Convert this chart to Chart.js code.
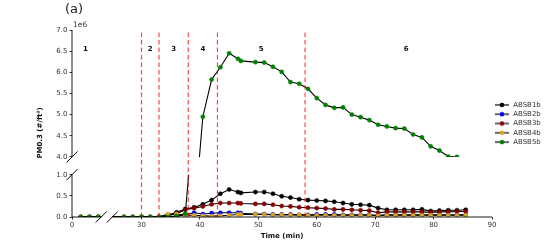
<!DOCTYPE html>
<html><head><meta charset="utf-8">
<script src="https://cdn.jsdelivr.net/npm/chart.js@4.4.0/dist/chart.umd.min.js"></script>
<style>html,body{margin:0;padding:0;background:#fff;}#wrap{width:550px;height:244px;position:relative;}</style>
</head><body><div id="wrap"><canvas id="c" width="550" height="244"></canvas></div>
<script>
// ---- data (values in units of 1e6 #/ft^3) ----
const times = [1.5, 3, 4.5,
  27, 28.5, 30, 31.5, 33, 34.5, 36, 37.5, 39, 40.5,
  42, 43.5, 45, 46.5, 47, 49.5, 51, 52.5, 54, 55.5,
  57, 58.5, 60, 61.5, 63, 64.5, 66, 67.5, 69, 70.5,
  72, 73.5, 75, 76.5, 78, 79.5, 81, 82.5, 84, 85.5];
const absb1b = [0, 0, 0,
  0, 0, 0, 0, 0.01, 0.04, 0.11, 0.19, 0.23, 0.30,
  0.40, 0.55, 0.65, 0.59, 0.57, 0.59, 0.59, 0.55, 0.49, 0.46,
  0.42, 0.40, 0.39, 0.38, 0.36, 0.33, 0.30, 0.29, 0.28, 0.21,
  0.17, 0.17, 0.17, 0.17, 0.18, 0.14, 0.15, 0.16, 0.16, 0.17];
const absb2b = [0, 0, 0,
  0, 0, 0, 0, 0, 0, 0.02, 0.05, 0.10, 0.07,
  0.09, 0.10, 0.10, 0.10, 0.09, 0.07, 0.07, 0.06, 0.06, 0.06,
  0.05, 0.05, 0.06, 0.06, 0.06, 0.05, 0.05, 0.05, 0.05, 0.04,
  0.05, 0.05, 0.05, 0.05, 0.05, 0.05, 0.05, 0.05, 0.05, 0.05];
const absb3b = [0, 0, 0,
  0, 0, 0, 0, 0, 0.03, 0.08, 0.17, 0.21, 0.25,
  0.30, 0.33, 0.33, 0.33, 0.32, 0.31, 0.31, 0.29, 0.26, 0.25,
  0.23, 0.22, 0.21, 0.20, 0.18, 0.18, 0.17, 0.16, 0.15, 0.10,
  0.12, 0.12, 0.12, 0.12, 0.12, 0.11, 0.12, 0.12, 0.13, 0.13];
const absb4b = [0, 0, 0,
  0, 0, 0, 0, 0, 0.07, 0.07, 0.04, 0.04, 0.03,
  0.02, 0.03, 0.04, 0.06, 0.06, 0.06, 0.06, 0.05, 0.05, 0.05,
  0.05, 0.04, 0.04, 0.04, 0.04, 0.04, 0.04, 0.04, 0.04, 0.03,
  0.04, 0.04, 0.04, 0.04, 0.04, 0.04, 0.04, 0.04, 0.04, 0.04];
const absb5b = [0, 0, 0,
  0, 0, 0, 0, 0, 0, 0.02, 0.08, null, 4.95,
  5.83, 6.12, 6.45, 6.32, 6.27, 6.24, 6.23, 6.13, 6.01, 5.77,
  5.73, 5.61, 5.39, 5.23, 5.16, 5.17, 5.00, 4.94, 4.87, 4.76,
  4.72, 4.68, 4.67, 4.53, 4.46, 4.25, 4.15, 4.01, 4.00, null];
const seriesNames = ['ABSB1b', 'ABSB2b', 'ABSB3b', 'ABSB4b', 'ABSB5b'];
const seriesValues = [absb1b, absb2b, absb3b, absb4b, absb5b];
const markerColors = ['#000000', '#0000ff', '#8b0000', '#daa520', '#008000'];
const xTickValues = [0, 30, 40, 50, 60, 70, 80, 90];
const yTickValues = [0, 0.5, 1.0, 4.0, 4.5, 5.0, 5.5, 6.0, 6.5, 7.0];
const phaseLines = [30, 33, 38, 43, 58];
const phaseLabels = ['1', '2', '3', '4', '5', '6'];
const phaseLabelX = [2.3, 31.5, 35.5, 40.5, 50.5, 75.3];
const phaseLabelY = 6.55;

// ---- broken-axis mapping ----
const XLIM = [[0, 5], [25, 90]], XGAP = 1.9;
const YLIM = [[0, 1], [4, 7]], YGAP = 0.42;
const fx = x => x <= XLIM[0][1] ? x : x - XLIM[1][0] + XLIM[0][1] + XGAP;
const invX = v => v <= XLIM[0][1] + XGAP / 2 ? v : v + XLIM[1][0] - XLIM[0][1] - XGAP;
const fyB = y => y;
const fyT = y => y - YLIM[1][0] + YLIM[0][1] + YGAP;
const invY = v => v <= YLIM[0][1] + YGAP / 2 ? v : v + YLIM[1][0] - YLIM[0][1] - YGAP;

const FONT = 'DejaVu Sans';

function makeIcon(color) {
  const c = document.createElement('canvas');
  c.width = 14; c.height = 6;
  const g = c.getContext('2d');
  g.strokeStyle = '#000'; g.lineWidth = 1.2;
  g.beginPath(); g.moveTo(0, 3); g.lineTo(14, 3); g.stroke();
  g.fillStyle = color; g.beginPath(); g.arc(7, 3, 2.3, 0, Math.PI * 2); g.fill();
  return c;
}
const legendIcons = markerColors.map(makeIcon);

const datasets = [];
['bottom', 'top'].forEach(panel => {
  seriesValues.forEach((vals, i) => {
    datasets.push({
      label: seriesNames[i],
      panel: panel,
      data: times.map((t, k) => ({x: fx(t), y: vals[k] == null ? null : (panel === 'bottom' ? fyB(vals[k]) : fyT(vals[k]))})),
      borderColor: '#000',
      borderWidth: 1.1,
      pointRadius: 2.1,
      pointBackgroundColor: markerColors[i],
      pointBorderColor: markerColors[i],
      pointBorderWidth: 0.5,
      tension: 0,
      fill: false,
      spanGaps: true,
      order: 4 - i
    });
  });
});

function panelRects(chart) {
  const xs = chart.scales.x, ys = chart.scales.y;
  return {
    xl0: xs.getPixelForValue(fx(XLIM[0][0])), xl1: xs.getPixelForValue(fx(XLIM[0][1])),
    xr0: xs.getPixelForValue(fx(XLIM[1][0])), xr1: xs.getPixelForValue(fx(XLIM[1][1])),
    yb0: ys.getPixelForValue(fyB(YLIM[0][0])), yb1: ys.getPixelForValue(fyB(YLIM[0][1])),
    yt0: ys.getPixelForValue(fyT(YLIM[1][0])), yt1: ys.getPixelForValue(fyT(YLIM[1][1]))
  };
}

const brokenAxes = {
  id: 'brokenAxes',
  beforeDatasetDraw(chart, args) {
    const ds = chart.data.datasets[args.index];
    const r = panelRects(chart);
    const ctx = chart.ctx;
    const top = ds.panel === 'bottom' ? r.yb1 : r.yt1;
    const bot = ds.panel === 'bottom' ? r.yb0 : r.yt0;
    ctx.save();
    ctx.beginPath();
    ctx.rect(r.xl0, top, r.xl1 - r.xl0, bot - top);
    ctx.rect(r.xr0, top, r.xr1 - r.xr0, bot - top);
    ctx.clip();
  },
  afterDatasetDraw(chart) { chart.ctx.restore(); },
  afterDatasetsDraw(chart) {
    const ctx = chart.ctx, xs = chart.scales.x, ys = chart.scales.y, ca = chart.chartArea;
    const r = panelRects(chart);
    // phase lines
    ctx.save();
    ctx.strokeStyle = 'rgba(255,0,0,0.72)';
    ctx.lineWidth = 1.2;
    ctx.setLineDash([4.5, 3]);
    phaseLines.forEach(v => {
      const x = xs.getPixelForValue(fx(v));
      ctx.beginPath(); ctx.moveTo(x, ca.top + 2.5); ctx.lineTo(x, ca.bottom); ctx.stroke();
    });
    ctx.restore();
    // spines
    ctx.save();
    ctx.strokeStyle = '#000'; ctx.lineWidth = 0.9;
    ctx.beginPath();
    ctx.moveTo(r.xl0, r.yb0); ctx.lineTo(r.xl0, r.yb1);
    ctx.moveTo(r.xl0, r.yt0); ctx.lineTo(r.xl0, r.yt1);
    ctx.moveTo(r.xl0, r.yb0); ctx.lineTo(r.xl1, r.yb0);
    ctx.moveTo(r.xr0, r.yb0); ctx.lineTo(r.xr1, r.yb0);
    ctx.stroke();
    // break marks
    const d = 5.5;
    ctx.lineWidth = 1;
    ctx.beginPath();
    [[r.xl0, r.yt0], [r.xl0, r.yb1], [r.xl1, r.yb0], [r.xr0, r.yb0]].forEach(([x, y]) => {
      ctx.moveTo(x - d, y + d); ctx.lineTo(x + d, y - d);
    });
    ctx.stroke();
    ctx.restore();
  },
  afterDraw(chart) {
    const ctx = chart.ctx, xs = chart.scales.x, ys = chart.scales.y, ca = chart.chartArea;
    ctx.save();
    ctx.fillStyle = '#111';
    ctx.textAlign = 'center'; ctx.textBaseline = 'middle';
    ctx.font = 'bold 7px "' + FONT + '"';
    phaseLabels.forEach((t, i) => {
      ctx.fillText(t, xs.getPixelForValue(fx(phaseLabelX[i])), ys.getPixelForValue(fyT(phaseLabelY)));
    });
    // y-axis title
    ctx.save();
    ctx.translate(40, 133);
    ctx.rotate(-Math.PI / 2);
    ctx.fillText('PM0.3 (#/ft³)', 0, 0);
    ctx.restore();
    ctx.textAlign = 'left';
    ctx.fillStyle = '#333';
    ctx.font = '7.5px "' + FONT + '"';
    ctx.fillText('1e6', ca.left + 1, ca.top - 5);
    ctx.fillStyle = '#222';
    ctx.font = '13px "' + FONT + '"';
    ctx.fillText('(a)', 65, 10);
    ctx.restore();
  }
};

new Chart(document.getElementById('c'), {
  type: 'line',
  data: {datasets},
  plugins: [brokenAxes],
  options: {
    responsive: false,
    animation: false,
    devicePixelRatio: 1,
    layout: {padding: {top: 30, left: 0, bottom: 0, right: 0}},
    plugins: {
      tooltip: {enabled: false},
      legend: {
        position: 'right',
        align: 'center',
        fullSize: false,
        maxWidth: 58,
        labels: {
          usePointStyle: true,
          pointStyleWidth: 15.4,
          padding: 2.3,
          font: {family: FONT, size: 7},
          color: '#333',
          generateLabels: () => seriesNames.map((n, i) => ({
            text: n, pointStyle: legendIcons[i], datasetIndex: i, hidden: false,
            fontColor: '#333', lineWidth: 0, strokeStyle: 'rgba(0,0,0,0)', fillStyle: 'rgba(0,0,0,0)'
          }))
        }
      }
    },
    scales: {
      x: {
        type: 'linear',
        min: fx(XLIM[0][0]), max: fx(XLIM[1][1]),
        afterBuildTicks: s => { s.ticks = xTickValues.map(v => ({value: fx(v)})); },
        afterFit: s => { s.height = 27; },
        ticks: {autoSkip: false, maxRotation: 0, padding: 1, color: '#333',
          font: {family: FONT, size: 7},
          callback: v => String(Math.round(invX(v)))},
        grid: {display: true, drawOnChartArea: false, drawTicks: true, tickLength: 2.5, color: '#000', lineWidth: 0.8},
        border: {display: false},
        title: {display: true, text: 'Time (min)', color: '#111',
          font: {family: FONT, size: 7, weight: 'bold'}, padding: {top: 0, bottom: 3.8}}
      },
      y: {
        type: 'linear',
        min: fyB(YLIM[0][0]), max: fyT(YLIM[1][1]),
        afterBuildTicks: s => { s.ticks = yTickValues.map(v => ({value: v <= YLIM[0][1] ? fyB(v) : fyT(v)})); },
        afterFit: s => { s.width = 72; },
        ticks: {autoSkip: false, padding: 2, color: '#333',
          font: {family: FONT, size: 7},
          callback: v => invY(v).toFixed(1)},
        grid: {display: true, drawOnChartArea: false, drawTicks: true, tickLength: 2.5, color: '#000', lineWidth: 0.8},
        border: {display: false},
        title: {display: false}
      }
    }
  }
});
</script></body></html>
